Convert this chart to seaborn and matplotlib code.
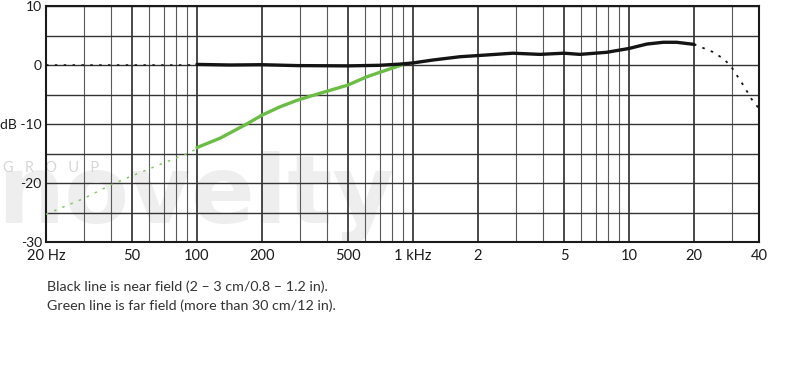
"""
Microphone frequency response: near field vs far field.
"""

import matplotlib
matplotlib.use("Agg")
import matplotlib.pyplot as plt
from matplotlib.ticker import FixedLocator, NullFormatter
import seaborn as sns
import pandas as pd

# Near field (black), solid part 100 Hz - 20 kHz
near_freq = [100, 142, 200, 290, 500, 700, 870, 1000, 1240, 1650, 2000, 2900,
             3870, 5000, 5930, 7880, 10000, 12100, 14400, 16600, 20000]
near_db = [0.1, 0.0, 0.05, -0.1, -0.15, -0.05, 0.15, 0.35, 0.85, 1.4, 1.6, 2.0,
           1.8, 2.0, 1.8, 2.15, 2.8, 3.55, 3.85, 3.85, 3.5]
# Near field dotted extensions
near_lo_freq = [20, 100]
near_lo_db = [0.0, 0.0]
near_hi_freq = [20000, 22000, 24500, 27000, 29400, 33800, 37000, 40000]
near_hi_db = [3.5, 2.9, 2.2, 1.2, 0.0, -3.4, -5.8, -7.4]

# Far field (green), solid part 100 Hz - ~900 Hz
far_freq = [100, 128, 170, 200, 242, 290, 327, 371, 500, 611, 755, 887]
far_db = [-14.0, -12.4, -10.0, -8.5, -7.1, -6.0, -5.4, -4.8, -3.4, -2.0, -0.85, 0.0]
# Far field dotted extension below 100 Hz
far_lo_freq = [20, 30, 40, 50, 67, 90, 100]
far_lo_db = [-25.3, -22.6, -20.3, -18.8, -16.9, -15.0, -14.2]

# Axis ticks
major_freqs = [20, 50, 100, 200, 500, 1000, 2000, 5000, 10000, 20000, 40000]
major_labels = ["20 Hz", "50", "100", "200", "500", "1 kHz", "2", "5", "10", "20", "40"]
minor_freqs = [30, 40, 60, 70, 80, 90, 300, 400, 600, 700, 800, 900,
               3000, 4000, 6000, 7000, 8000, 9000, 30000]
db_ticks = [-30, -20, -10, 0, 10]
db_labels = ["-30", "-20", "dB -10", "0", "10"]
db_minor = [-25, -15, -5, 5]

caption = ["Black line is near field (2 \u2013 3 cm/0.8 \u2013 1.2 in).",
           "Green line is far field (more than 30 cm/12 in)."]

sns.set_theme(style="white")
plt.rcParams["font.family"] = ["Lato", "DejaVu Sans"]

fig = plt.figure(figsize=(8, 3.9), dpi=100)
fig.patch.set_facecolor("white")
ax = fig.add_axes([46 / 800, 1 - 242 / 390, 713 / 800, 236 / 390])
ax.set_facecolor("none")

# faint watermark behind the grid
fig.text(-0.004, 1 - 223 / 390, "novelty", fontsize=68, fontweight="bold",
         family="DejaVu Sans", color="#eeeeee", va="baseline", ha="left", zorder=-3)
fig.text(0.004, 1 - 172 / 390, "G   R   O   U   P", fontsize=10.5,
         color="#d6d6d6", va="baseline", ha="left", zorder=-2)

BLACK = "#141414"
GREEN = "#6cbd45"
GREEN_DOT = "#86c765"

sns.lineplot(data=pd.DataFrame({"f": near_lo_freq, "db": near_lo_db}), x="f", y="db",
             ax=ax, color=BLACK, linewidth=1.1, linestyle=(0, (1.6, 4.2)), zorder=4)
sns.lineplot(data=pd.DataFrame({"f": near_hi_freq, "db": near_hi_db}), x="f", y="db",
             ax=ax, color=BLACK, linewidth=1.3, linestyle=(0, (1.4, 3.6)), zorder=4)
sns.lineplot(data=pd.DataFrame({"f": far_lo_freq, "db": far_lo_db}), x="f", y="db",
             ax=ax, color=GREEN_DOT, linewidth=1.1, linestyle=(0, (1.6, 4.2)), zorder=4)
sns.lineplot(data=pd.DataFrame({"f": far_freq, "db": far_db}), x="f", y="db",
             ax=ax, color=GREEN, linewidth=2.4, zorder=5, solid_capstyle="round")
sns.lineplot(data=pd.DataFrame({"f": near_freq, "db": near_db}), x="f", y="db",
             ax=ax, color=BLACK, linewidth=2.4, zorder=6, solid_capstyle="round")

ax.set_xscale("log")
ax.set_xlim(20, 40000)
ax.set_ylim(-30, 10)

ax.xaxis.set_major_locator(FixedLocator(major_freqs))
ax.set_xticklabels(major_labels)
ax.xaxis.set_minor_locator(FixedLocator(minor_freqs))
ax.xaxis.set_minor_formatter(NullFormatter())
ax.yaxis.set_major_locator(FixedLocator(db_ticks))
ax.set_yticklabels(db_labels)
ax.yaxis.set_minor_locator(FixedLocator(db_minor))

ax.grid(axis="x", which="major", color="#2a2a2a", linewidth=1.2)
ax.grid(axis="x", which="minor", color="#5a5a5a", linewidth=0.8)
ax.grid(axis="y", which="both", color="#333333", linewidth=1.0)
ax.set_axisbelow(True)

ax.tick_params(axis="both", which="both", length=0, colors="#1a1a1a")
ax.tick_params(axis="x", pad=5, labelsize=10.5)
ax.tick_params(axis="y", pad=3, labelsize=10)
for spine in ax.spines.values():
    spine.set_visible(True)
    spine.set_color("#1a1a1a")
    spine.set_linewidth(1.5)
ax.set_xlabel("")
ax.set_ylabel("")

fig.text(47 / 800, 1 - 287 / 390, caption[0], fontsize=10.3, color="#333333", va="center")
fig.text(47 / 800, 1 - 306 / 390, caption[1], fontsize=10.3, color="#333333", va="center")

fig.savefig("out.png", dpi=100)
